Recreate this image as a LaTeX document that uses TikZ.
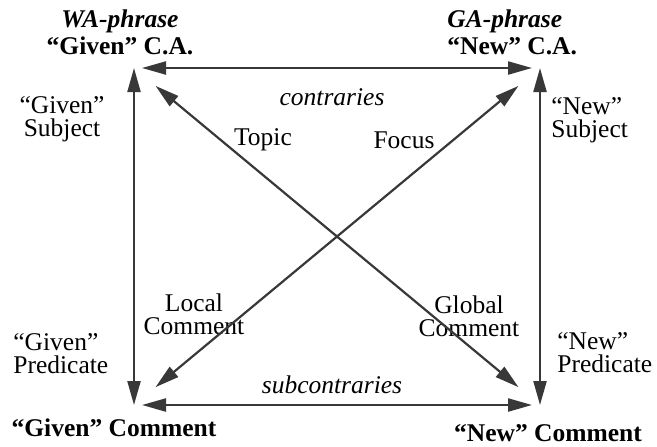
\documentclass[tikz,border=0pt]{standalone}
\usepackage{fontspec}
\setmainfont{Liberation Serif}
\usepackage{tikz}
\usetikzlibrary{arrows.meta}

\begin{document}
\begin{tikzpicture}[x=0.5pt, y=-0.5pt, >={Triangle[length=12pt,width=6.5pt]},
  font=\fontsize{12.75}{11.5}\selectfont]
\tikzset{%
  arr/.style = {%
    <->,
    line width = 1.1pt,
    draw = black!78},
  lbl/.style = {%
    inner sep = 0pt,
    align = center},
  head/.style = {%
    lbl,
    font = \fontsize{12.75}{13.5}\selectfont\bfseries}
}
  \useasboundingbox (0,0) rectangle (657,446);

  % corners of the square
  \coordinate (givenca) at (134,68);
  \coordinate (newca) at (540,68);
  \coordinate (givencom) at (134,405);
  \coordinate (newcom) at (540,405);

  \node[head] (waphrase) at (120,32)
    {\textit{WA-phrase}\\``Given'' C.A.};
  \node[head, align=left, anchor=west] (gaphrase) at (447,32)
    {\textit{GA-phrase}\\``New'' C.A.};
  \node[head] (givencomment) at (114,428) {``Given'' Comment};
  \node[head] (newcomment) at (548,433) {``New'' Comment};

  \node[lbl] (givensubject) at (62,119) {``Given''\\Subject};
  \node[lbl, align=left, anchor=west] (newsubject) at (551,120)
    {``New''\\Subject};
  \node[lbl, align=left, anchor=west] (givenpredicate) at (13,354)
    {``Given''\\Predicate};
  \node[lbl, align=left, anchor=west] (newpredicate) at (557,353)
    {``New''\\Predicate};

  \node[lbl] (contraries) at (332,97) {\textit{contraries}};
  \node[lbl] (subcontraries) at (332,385) {\textit{subcontraries}};
  \node[lbl] (topic) at (263,140) {Topic};
  \node[lbl] (focus) at (404,140) {Focus};
  \node[lbl] (localcomment) at (194,314) {Local\\Comment};
  \node[lbl] (globalcomment) at (469,316) {Global\\Comment};

  \draw[arr] (givencom) -- (givenca);
  \draw[arr] (newcom) -- (newca);
  \draw[arr, shorten <=4pt, shorten >=4pt] (givenca) -- (newca);
  \draw[arr, shorten <=4pt, shorten >=4pt] (givencom) -- (newcom);
  \draw[arr, shorten <=14pt, shorten >=14pt] (givenca) -- (newcom);
  \draw[arr, shorten <=14pt, shorten >=14pt] (givencom) -- (newca);
\end{tikzpicture}
\end{document}
